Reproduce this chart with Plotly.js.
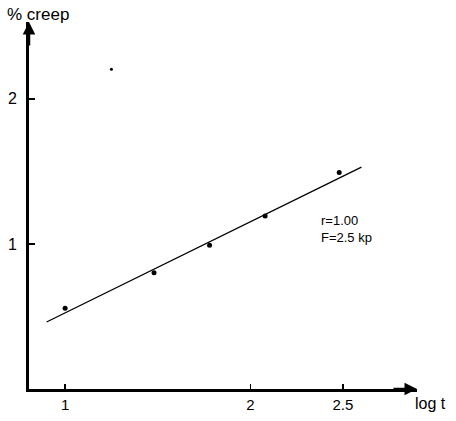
<!DOCTYPE html>
<html>
<head>
<meta charset="utf-8">
<script src="https://cdn.plot.ly/plotly-3.0.1.min.js"></script>
<style>html,body{margin:0;padding:0;background:#fff;}#chart{width:456px;height:421px;}</style>
</head>
<body>
<div id="chart"></div>
<script>
// Measured points (log t, % creep)
const pointsX = [1.00, 1.48, 1.78, 2.08, 2.48];
const pointsY = [0.556, 0.802, 0.991, 1.193, 1.492];
// Stray dot
const strayX = [1.25];
const strayY = [2.205];
// Fitted line end points
const fitX = [0.90, 2.60];
const fitY = [0.462, 1.529];
// Tick values / labels
const xTickVals = [1, 2, 2.5];
const xTickText = ["1", "2", "2.5"];
const yTickVals = [1, 2];
const yTickText = ["1", "2"];

const font = "Liberation Sans, Arial, sans-serif";

const traces = [
  {x: fitX, y: fitY, mode: "lines", line: {color: "#000", width: 1.3}, hoverinfo: "skip"},
  {x: pointsX, y: pointsY, mode: "markers", marker: {color: "#000", size: 5}},
  {x: strayX, y: strayY, mode: "markers", marker: {color: "#000", size: 3}}
];

const layout = {
  width: 456, height: 421,
  margin: {l: 29, r: 39, t: 22, b: 32},
  showlegend: false,
  paper_bgcolor: "#fff", plot_bgcolor: "#fff",
  font: {family: font, color: "#000", size: 14},
  xaxis: {
    range: [0.805, 2.90], showgrid: false, zeroline: false,
    showline: true, linecolor: "#000", linewidth: 3,
    tickvals: xTickVals, ticktext: xTickText,
    ticks: "inside", ticklen: 5, tickwidth: 1.5, tickcolor: "#000",
    tickfont: {family: font, size: 15}
  },
  yaxis: {
    range: [0, 2.53], showgrid: false, zeroline: false,
    showline: true, linecolor: "#000", linewidth: 3,
    tickvals: yTickVals, ticktext: yTickText,
    ticks: "inside", ticklen: 6, tickwidth: 1.5, tickcolor: "#000",
    ticklabelstandoff: 6,
    tickfont: {family: font, size: 16}
  },
  annotations: [
    {xref: "paper", yref: "paper", x: 1.0, y: 0, ax: -25, ay: 0, text: "",
     showarrow: true, arrowhead: 2, arrowsize: 1, arrowwidth: 2.5, arrowcolor: "#000"},
    {xref: "paper", yref: "paper", x: 0, y: 1.0, ax: 0, ay: 25, text: "",
     showarrow: true, arrowhead: 2, arrowsize: 1, arrowwidth: 2.5, arrowcolor: "#000"},
    {xref: "paper", yref: "paper", x: -0.062, y: 1.02, xanchor: "left", yanchor: "middle",
     text: "% creep", showarrow: false, font: {family: font, size: 17}},
    {xref: "paper", yref: "paper", x: 0.99, y: -0.04, xanchor: "left", yanchor: "middle",
     text: "log t", showarrow: false, font: {family: font, size: 16}},
    {xref: "x", yref: "y", x: 2.372, y: 1.10, xanchor: "left", yanchor: "middle", align: "left",
     text: "r=1.00<br>F=2.5 kp", showarrow: false, font: {family: font, size: 13}}
  ]
};

Plotly.newPlot("chart", traces, layout, {displayModeBar: false, staticPlot: true});
</script>
</body>
</html>
